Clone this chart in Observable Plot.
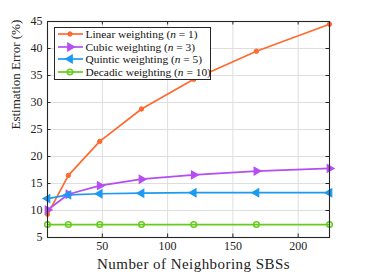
<!DOCTYPE html>
<html>
<head>
<meta charset="utf-8">
<script src="https://cdn.jsdelivr.net/npm/d3@7"></script>
<script src="https://cdn.jsdelivr.net/npm/@observablehq/plot@0.6"></script>
<style>
  html, body { margin: 0; padding: 0; background: #fff; }
  #wrap { position: relative; width: 366px; height: 272px; font-family: "Liberation Serif", serif; }
  #wrap svg, #wrap svg text { font-family: "Liberation Serif", serif !important; }
  #legend { position: absolute; left: 54px; top: 27px; width: 157px; height: 53px; box-sizing: border-box; border: 1.5px solid #262626; background: #fff; padding: 0 0 0 1.5px; font-family: "Liberation Serif", serif; }
  .row { display: flex; align-items: center; height: 12.6px; font-size: 11.4px; color: #111; white-space: nowrap; }
  .row svg { margin-right: 2px; flex: none; }
</style>
</head>
<body>
<div id="wrap"><div id="legend"></div></div>
<script>
const neighbors = [8, 24, 48, 80, 120, 168, 224];
const linear  = [9.3, 16.5, 22.8, 28.8, 34.3, 39.5, 44.5];
const cubic   = [10.1, 13.0, 14.6, 15.8, 16.6, 17.3, 17.8];
const quintic = [12.2, 12.9, 13.1, 13.2, 13.3, 13.3, 13.3];
const decadic = [7.4, 7.4, 7.4, 7.4, 7.4, 7.4, 7.4];
const seriesNames = ["Linear weighting", "Cubic weighting", "Quintic weighting", "Decadic weighting"];
const seriesN = [1, 3, 5, 10];
const colors = ["#ff6a2f", "#b54ef2", "#1c9af2", "#66cc1c"];
const xTicks = [50, 100, 150, 200];
const yTicks = [5, 10, 15, 20, 25, 30, 35, 40, 45];
const xLabel = "Number of Neighboring SBSs";
const yLabel = "Estimation Error (%)";

const allValues = [linear, cubic, quintic, decadic];
const data = [];
allValues.forEach((vals, si) => vals.forEach((v, i) => data.push({series: seriesNames[si], x: neighbors[i], y: v})));
const of = s => data.filter(d => d.series === s);

const W = 366, H = 272, mL = 47, mR = 37, mT = 21, mB = 35;
const plotH = H - mT - mB, plotW = W - mL - mR;
const tk = 3.5;
const FF = "Liberation Serif";

const markers = [
  {symbol: "circle", r: 2.2, fill: colors[0], stroke: colors[0], rotate: 0, sw: 1},
  {symbol: "triangle", r: 2.9, fill: colors[1], stroke: colors[1], rotate: 90, sw: 1.2},
  {symbol: "triangle", r: 2.9, fill: colors[2], stroke: colors[2], rotate: -90, sw: 1.2},
  {symbol: "circle", r: 2.8, fill: "none", stroke: colors[3], rotate: 0, sw: 1.5}
];

const chart = Plot.plot({
  width: W, height: H,
  marginLeft: mL, marginRight: mR, marginTop: mT, marginBottom: mB,
  x: {domain: [8, 224]},
  y: {domain: [5, 45]},
  style: {fontFamily: FF, fontSize: "12px", color: "#222", background: "transparent"},
  marks: [
    Plot.gridX(xTicks, {stroke: "#dedede", strokeOpacity: 1, strokeWidth: 1}),
    Plot.gridY(yTicks, {stroke: "#dedede", strokeOpacity: 1, strokeWidth: 1}),
    Plot.axisX(xTicks, {tickSize: 0, tickPadding: 4, label: null, fontSize: 12, fontFamily: FF}),
    Plot.axisY(yTicks, {tickSize: 0, tickPadding: 5, label: null, fontSize: 12, fontFamily: FF}),
    Plot.ruleX(xTicks, {x: d => d, insetTop: plotH - tk, stroke: "#262626"}),
    Plot.ruleX(xTicks, {x: d => d, insetBottom: plotH - tk, stroke: "#262626"}),
    Plot.ruleY(yTicks, {y: d => d, insetRight: plotW - tk, stroke: "#262626"}),
    Plot.ruleY(yTicks, {y: d => d, insetLeft: plotW - tk, stroke: "#262626"}),
    ...seriesNames.map((s, i) => Plot.line(of(s), {x: "x", y: "y", stroke: colors[i], strokeWidth: 1.7})),
    ...seriesNames.map((s, i) => Plot.dot(of(s), {x: "x", y: "y", symbol: markers[i].symbol, r: markers[i].r,
        fill: markers[i].fill, stroke: markers[i].stroke, strokeWidth: markers[i].sw, rotate: markers[i].rotate})),
    Plot.frame({stroke: "#262626", strokeWidth: 1.1}),
    Plot.text([xLabel], {frameAnchor: "bottom", lineAnchor: "middle", dy: 27, dx: 5, fontSize: 15, fontFamily: FF, fill: "#222"}),
    Plot.text([yLabel], {frameAnchor: "left", lineAnchor: "middle", rotate: -90, dx: -32, fontSize: 13, fontFamily: FF, fill: "#222"})
  ]
});
document.getElementById("wrap").prepend(chart);
chart.style.position = "absolute";
chart.style.left = "0";
chart.style.top = "0";
d3.select(chart).selectAll("text").filter(function() { return this.textContent === xLabel; })
  .style("letter-spacing", "0.45px");

const legend = d3.select("#legend");
seriesNames.forEach((s, i) => {
  const row = legend.append("div").attr("class", "row");
  const sw = row.append("svg").attr("width", 27).attr("height", 12);
  sw.append("line").attr("x1", 1).attr("x2", 26).attr("y1", 6).attr("y2", 6)
    .attr("stroke", colors[i]).attr("stroke-width", 1.7);
  const m = markers[i];
  const sym = m.symbol === "circle" ? d3.symbolCircle : d3.symbolTriangle;
  sw.append("path").attr("d", d3.symbol(sym, Math.PI * m.r * m.r)())
    .attr("transform", `translate(13,6) rotate(${m.rotate})`)
    .attr("fill", m.fill).attr("stroke", m.stroke).attr("stroke-width", m.sw);
  const t = row.append("span");
  t.append("span").text(s + " (");
  t.append("i").text("n");
  t.append("span").text(" = " + seriesN[i] + ")");
});
</script>
</body>
</html>
